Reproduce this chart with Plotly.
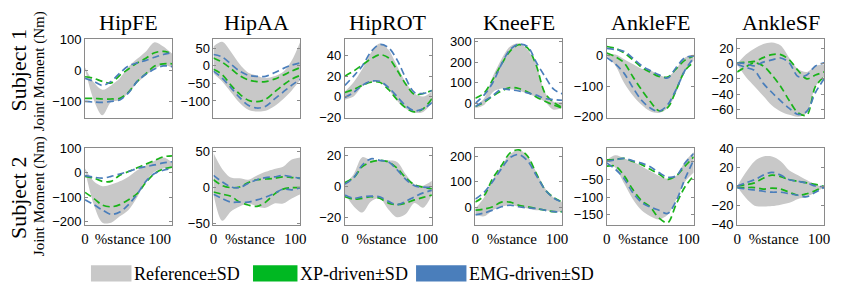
import plotly.graph_objects as go

W, H = 843, 296
X = [0, 10, 20, 30, 40, 50, 60, 70, 80, 90, 100]

titles = ["HipFE", "HipAA", "HipROT", "KneeFE", "AnkleFE", "AnkleSF"]
subjects = ["Subject 1", "Subject 2"]
x_ticktext = ["0", "%stance", "100"]

# ---- Subject 1 ----
hipfe1_ref_hi = [10, -38, -62, -48, -25, 12, 38, 62, 92, 78, 55]
hipfe1_ref_lo = [5, -95, -145, -102, -95, -72, -40, -15, 5, 18, 10]
hipfe1_xp_hi = [-20, -25, -35, -40, -15, 5, 25, 40, 58, 62, 55]
hipfe1_xp_lo = [-90, -90, -92, -92, -90, -70, -35, -10, 15, 22, 22]
hipfe1_emg_hi = [-25, -35, -48, -35, -8, 15, 25, 33, 43, 52, 58]
hipfe1_emg_lo = [-100, -102, -103, -100, -95, -72, -35, -12, 5, 15, 13]

hipaa1_ref_hi = [55, 68, 40, 5, -20, -28, -35, -30, -18, 15, 70]
hipaa1_ref_lo = [-22, -45, -75, -105, -125, -130, -128, -115, -95, -70, -40]
hipaa1_xp_hi = [22, 10, -8, -28, -40, -45, -45, -38, -27, -15, -5]
hipaa1_xp_lo = [-10, -25, -55, -80, -98, -102, -95, -75, -55, -38, -27]
hipaa1_emg_hi = [32, 25, 5, -15, -27, -30, -30, -20, -8, 2, 8]
hipaa1_emg_lo = [-15, -35, -62, -90, -112, -120, -115, -95, -75, -55, -38]

hiprot1_ref_hi = [5, 14, 27, 43, 52, 46, 30, 14, 3, 0, 5]
hiprot1_ref_lo = [-3, 0, 10, 14, 14, 7, -4, -12, -16, -15, -6]
hiprot1_xp_hi = [20, 25, 31, 37, 41, 38, 26, 12, 2, 3, 6]
hiprot1_xp_lo = [4, 7, 11, 14, 14, 7, -3, -11, -15, -12, -2]
hiprot1_emg_hi = [11, 20, 30, 44, 51, 48, 36, 18, 4, 3, 6]
hiprot1_emg_lo = [-1, 4, 11, 15, 15, 9, 0, -9, -14, -12, -6]

kneefe1_ref_hi = [-15, 23, 130, 215, 277, 292, 261, 190, 54, 8, 8]
kneefe1_ref_lo = [-23, -8, 54, 72, 69, 62, 46, 31, 8, -31, -23]
kneefe1_xp_hi = [25, 50, 115, 190, 254, 285, 270, 185, 50, 5, -20]
kneefe1_xp_lo = [-15, 5, 35, 60, 77, 72, 55, 31, 10, -8, -23]
kneefe1_emg_hi = [0, 40, 100, 190, 261, 288, 277, 200, 131, 69, 46]
kneefe1_emg_lo = [-15, 10, 38, 69, 66, 60, 51, 40, 23, 18, 15]

anklefe1_ref_hi = [4, 2, -13, -29, -44, -49, -64, -70, -44, -8, 2]
anklefe1_ref_lo = [-3, -34, -90, -131, -161, -182, -187, -171, -120, -49, -18]
anklefe1_xp_hi = [28, 22, 7, -15, -39, -55, -69, -71, -44, -16, -3]
anklefe1_xp_lo = [7, -5, -25, -70, -112, -150, -180, -170, -112, -50, -23]
anklefe1_emg_hi = [22, 18, 12, -10, -34, -50, -64, -74, -39, -8, -3]
anklefe1_emg_lo = [-8, -29, -59, -105, -146, -171, -182, -161, -110, -49, -8]

anklesf1_ref_hi = [0, 12, 20, 26, 28, 24, 7.5, -7, -11, -3, -1]
anklesf1_ref_lo = [-1, -17.5, -30, -42.5, -55, -63, -67.5, -70, -65, -30, -17.5]
anklesf1_xp_hi = [1, 2, 3, 8, 12, 12, 5, -9, -20, -15, -11]
anklesf1_xp_lo = [-11, -4, 1, -3, -15, -30, -49, -65, -68, -30, -17.5]
anklesf1_emg_hi = [1, 0, -3, 2, 5, 7.5, 1, -17, -15, -3, 1]
anklesf1_emg_lo = [-1, -5, -9, -26, -38, -49, -59, -67, -63, -38, -20]

# ---- Subject 2 ----
hipfe2_ref_hi = [17, -35, -55, -48, -35, -16, 10, 30, 49, 62, 43]
hipfe2_ref_lo = [10, -130, -204, -204, -178, -152, -100, -35, 4, 17, 23]
hipfe2_xp_hi = [-15, -22, -35, -35, -10, 5, 20, 35, 50, 65, 69]
hipfe2_xp_lo = [-80, -105, -132, -139, -130, -110, -85, -40, -3, 15, 23]
hipfe2_emg_hi = [-12, -18, -22, -15, -5, 5, 17, 25, 32, 40, 45]
hipfe2_emg_lo = [-110, -130, -152, -170, -160, -130, -87, -35, -3, 10, 17]

hipaa2_ref_hi = [48, 26, 14, 13, 11, 17, 22, 26, 29, 39, 42]
hipaa2_ref_lo = [-9, -46, -33, -26, -22, -26, -28, -22, -22, -15, -9]
hipaa2_xp_hi = [11, 3, 0, 1, 7, 11, 12, 13, 15, 14, 13]
hipaa2_xp_lo = [-6, -9, -12, -20, -24, -26, -20, -9, -2, 0, 0]
hipaa2_emg_hi = [17, 8, 1, 0, 6, 11, 14, 15, 17, 15, 13]
hipaa2_emg_lo = [-9, -15, -20, -20, -20, -17, -13, -8, -2, -3, 0]

hiprot2_ref_hi = [1.6, 8, 19, 17, 17, 17, 16, 8, 1.6, 0.6, 3.7]
hiprot2_ref_lo = [-4.5, -12.7, -16.8, -9.6, -7.6, -14.8, -19.9, -17.8, -10.7, -13.7, -5.5]
hiprot2_xp_hi = [2.7, 5.7, 12.9, 16, 17, 16, 11.9, 5.7, 1.2, -0.4, -1.4]
hiprot2_xp_lo = [-6.6, -8.2, -7.6, -6.6, -7.6, -10.7, -11.7, -10.7, -8.6, -7, -5.5]
hiprot2_emg_hi = [1.6, 5.7, 14, 18, 17, 16, 10.9, 4.7, 0.6, -0.4, -0.4]
hiprot2_emg_lo = [-5.5, -7.6, -6.6, -6.2, -6.6, -9.6, -11.7, -9.6, -6.6, -4.1, -2.5]

kneefe2_ref_hi = [-2.5, 40, 108, 163, 206, 224, 200, 139, 77, 40, 22]
kneefe2_ref_lo = [-27, -33, -9, 4, 10, 4, -2.5, -9, -9, -15, -15]
kneefe2_xp_hi = [22, 47, 114, 163, 212, 224, 200, 133, 71, 40, 22]
kneefe2_xp_lo = [-9, -5, 4, 22, 22, 10, 4, -2.5, -9, -15, -15]
kneefe2_emg_hi = [34, 60, 102, 151, 194, 206, 182, 126, 71, 38, 22]
kneefe2_emg_lo = [-27, -20, -9, 4, 10, 4, 0, -2.5, -9, -15, -15]

anklefe2_ref_hi = [4.4, 17.6, 8.8, 0, -13, -26.5, -40, -48.5, -40, 0, 26.5]
anklefe2_ref_lo = [0, -17.6, -62, -106, -137, -154, -163, -150, -106, -57, -31]
anklefe2_xp_hi = [4.4, 6, 8.8, 0, -8.8, -22, -35, -50, -40, -13, 13]
anklefe2_xp_lo = [-13, -13, -40, -79, -110, -128, -159, -172, -119, -71, -40]
anklefe2_emg_hi = [0, 5, 8.8, 2, -4.4, -15, -31, -44, -40, -4.4, 22]
anklefe2_emg_lo = [-4.4, -22, -48.5, -88, -115, -128, -137, -146, -110, -48.5, 4.4]

anklesf2_ref_hi = [0.6, 15, 26.7, 31.5, 31.5, 26.7, 17, 12, 7, 2.3, -0.3]
anklesf2_ref_lo = [-0.3, -12, -20, -21, -20.5, -19, -17, -13, -10.7, -5.9, -1]
anklesf2_xp_hi = [0.6, 2, 3.9, 8.8, 12, 10.4, 7.2, 5.5, 3.9, 2.3, 0]
anklesf2_xp_lo = [-1, -1, -1, -2.6, -1.6, -2.6, -5.9, -9.1, -7.5, -4.2, 0]
anklesf2_emg_hi = [0.6, 4, 7.2, 12, 15, 12, 7.2, 5.5, 3.9, 0.6, 0]
anklesf2_emg_lo = [-1, -2.5, -3.6, -4.9, -5.9, -5.9, -7.5, -9.1, -10.7, -5.9, -1]

# y-axis ranges and ticks (row, col order)
y_ranges = [
    [[-152, 101], [-147, 75], [-20.5, 56], [-69, 311], [-202, 51], [-71, 32]],
    [[-214, 101], [-52, 55], [-25, 25], [-67, 231], [-179, 38], [-40.5, 40.5]],
]
y_ticks = [
    [[-100, 0, 100], [-100, -50, 0, 50], [-20, 0, 20, 40], [0, 100, 200, 300], [-200, -100, 0], [-60, -40, -20, 0, 20]],
    [[-200, -100, 0, 100], [-50, 0, 50], [-20, 0, 20], [0, 100, 200], [-150, -100, -50, 0], [-40, -20, 0, 20, 40]],
]

panels = [
    [
        (hipfe1_ref_hi, hipfe1_ref_lo, hipfe1_xp_hi, hipfe1_xp_lo, hipfe1_emg_hi, hipfe1_emg_lo),
        (hipaa1_ref_hi, hipaa1_ref_lo, hipaa1_xp_hi, hipaa1_xp_lo, hipaa1_emg_hi, hipaa1_emg_lo),
        (hiprot1_ref_hi, hiprot1_ref_lo, hiprot1_xp_hi, hiprot1_xp_lo, hiprot1_emg_hi, hiprot1_emg_lo),
        (kneefe1_ref_hi, kneefe1_ref_lo, kneefe1_xp_hi, kneefe1_xp_lo, kneefe1_emg_hi, kneefe1_emg_lo),
        (anklefe1_ref_hi, anklefe1_ref_lo, anklefe1_xp_hi, anklefe1_xp_lo, anklefe1_emg_hi, anklefe1_emg_lo),
        (anklesf1_ref_hi, anklesf1_ref_lo, anklesf1_xp_hi, anklesf1_xp_lo, anklesf1_emg_hi, anklesf1_emg_lo),
    ],
    [
        (hipfe2_ref_hi, hipfe2_ref_lo, hipfe2_xp_hi, hipfe2_xp_lo, hipfe2_emg_hi, hipfe2_emg_lo),
        (hipaa2_ref_hi, hipaa2_ref_lo, hipaa2_xp_hi, hipaa2_xp_lo, hipaa2_emg_hi, hipaa2_emg_lo),
        (hiprot2_ref_hi, hiprot2_ref_lo, hiprot2_xp_hi, hiprot2_xp_lo, hiprot2_emg_hi, hiprot2_emg_lo),
        (kneefe2_ref_hi, kneefe2_ref_lo, kneefe2_xp_hi, kneefe2_xp_lo, kneefe2_emg_hi, kneefe2_emg_lo),
        (anklefe2_ref_hi, anklefe2_ref_lo, anklefe2_xp_hi, anklefe2_xp_lo, anklefe2_emg_hi, anklefe2_emg_lo),
        (anklesf2_ref_hi, anklesf2_ref_lo, anklesf2_xp_hi, anklesf2_xp_lo, anklesf2_emg_hi, anklesf2_emg_lo),
    ],
]

GRAY = "#c8c8c8"
GREEN = "#19b319"
BLUE = "#4a7ebb"
FRAME = "#8a8a8a"
SERIF = "Liberation Serif"
SANS = "Liberation Sans"

col_left = [82, 212, 345, 477, 610, 742]
col_w = 88
row_top = [34, 148]
row_bot = [116, 229]


def px(v):
    return v / W


def py(v):
    return 1 - v / H


fig = go.Figure()
layout = dict(
    width=W, height=H, autosize=False,
    margin=dict(l=0, r=0, t=0, b=0),
    paper_bgcolor="white", plot_bgcolor="white",
    showlegend=False,
)

annotations = []
shapes = []
dash = "7px,4px"

for r in range(2):
    for c in range(6):
        idx = r * 6 + c + 1
        xa = "x" if idx == 1 else f"x{idx}"
        ya = "y" if idx == 1 else f"y{idx}"
        xkey = "xaxis" if idx == 1 else f"xaxis{idx}"
        ykey = "yaxis" if idx == 1 else f"yaxis{idx}"
        ref_hi, ref_lo, xp_hi, xp_lo, emg_hi, emg_lo = panels[r][c]

        fig.add_trace(go.Scatter(x=X, y=ref_lo, xaxis=xa, yaxis=ya, mode="lines",
                                 line=dict(width=0, shape="spline", smoothing=0.9, color=GRAY),
                                 hoverinfo="skip"))
        fig.add_trace(go.Scatter(x=X, y=ref_hi, xaxis=xa, yaxis=ya, mode="lines",
                                 fill="tonexty", fillcolor=GRAY,
                                 line=dict(width=0, shape="spline", smoothing=0.9, color=GRAY),
                                 hoverinfo="skip"))
        for series, col in ((xp_hi, GREEN), (xp_lo, GREEN), (emg_hi, BLUE), (emg_lo, BLUE)):
            fig.add_trace(go.Scatter(x=X, y=series, xaxis=xa, yaxis=ya, mode="lines",
                                     line=dict(width=1.7, color=col, dash=dash,
                                               shape="spline", smoothing=0.9),
                                     hoverinfo="skip"))

        tv = [0, 40, 86] if c == 0 else [0, 42, 94]
        layout[xkey] = dict(
            domain=[px(col_left[c]), px(col_left[c] + col_w)], anchor=ya, range=[0, 100],
            showgrid=False, zeroline=False, showline=True, mirror=True,
            linecolor=FRAME, linewidth=1, ticks="",
            tickvals=tv, ticktext=x_ticktext,
            showticklabels=(r == 1),
            tickfont=dict(family=SERIF, size=15, color="black"),
            fixedrange=True,
        )
        layout[ykey] = dict(
            domain=[py(row_bot[r]), py(row_top[r])], anchor=xa, range=y_ranges[r][c],
            showgrid=False, zeroline=False, showline=True, mirror="ticks",
            linecolor=FRAME, linewidth=1, ticks="inside", ticklen=3, tickcolor=FRAME,
            tickvals=y_ticks[r][c],
            tickfont=dict(family=SANS, size=13, color="black"),
            fixedrange=True,
        )

# column titles
for c, t in enumerate(titles):
    annotations.append(dict(
        text=t, xref="paper", yref="paper",
        x=px(col_left[c] + col_w / 2), y=py(1),
        xanchor="center", yanchor="top", showarrow=False,
        font=dict(family=SERIF, size=22, color="black"),
    ))

# row labels
subj_center = [66, 200]
jm_center = [68, 199]
for r, s in enumerate(subjects):
    annotations.append(dict(
        text=s, xref="paper", yref="paper", x=0, y=py(subj_center[r]),
        xanchor="left", yanchor="middle", textangle=-90, showarrow=False,
        font=dict(family=SERIF, size=22, color="black"),
    ))
    annotations.append(dict(
        text="Joint Moment (Nm)", xref="paper", yref="paper", x=px(36), y=py(jm_center[r]),
        xanchor="center", yanchor="middle", textangle=-90, showarrow=False,
        font=dict(family=SERIF, size=15, color="black"),
    ))

# legend
legend_items = [
    ("Reference", GRAY, 88, 129),
    ("XP-driven", "#00b822", 252, 297),
    ("EMG-driven", BLUE, 417, 468),
]
for label, col, lx0, lx1 in legend_items:
    shapes.append(dict(type="rect", xref="paper", yref="paper",
                       x0=px(lx0), x1=px(lx1), y0=py(288), y1=py(271),
                       fillcolor=col, line=dict(width=0)))
    annotations.append(dict(
        text=label + "\u00b1SD", xref="paper", yref="paper",
        x=px(lx1 + 1), y=py(280), xanchor="left", yanchor="middle",
        showarrow=False, font=dict(family=SERIF, size=18, color="black"),
    ))

layout["annotations"] = annotations
layout["shapes"] = shapes
fig.update_layout(**layout)
fig.write_html("out.html", config={"displayModeBar": False},
               post_script="document.body.style.margin='0';")
